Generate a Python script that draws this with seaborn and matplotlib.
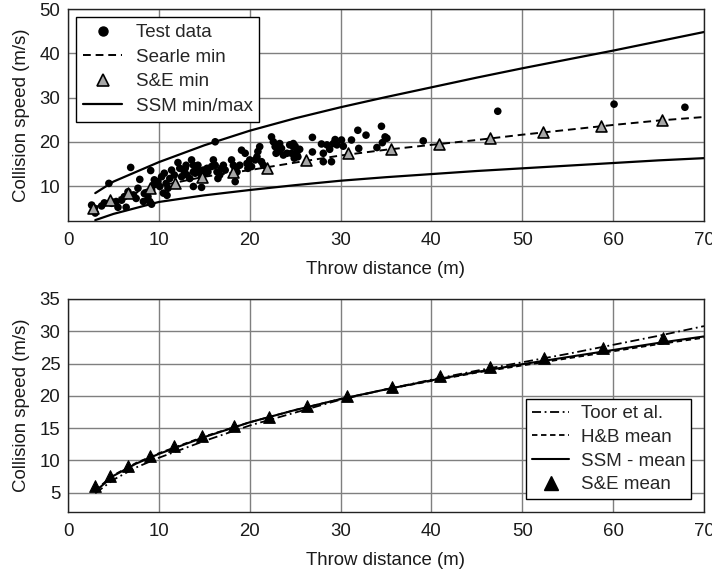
import numpy as np
import pandas as pd
import matplotlib
matplotlib.use("Agg")
import matplotlib.pyplot as plt
import seaborn as sns
from matplotlib.lines import Line2D

# ---------------- data: top panel ----------------
test_x = [6.9, 4.5, 9.1, 2.6, 2.9, 3.7, 4.0, 4.8, 5.3, 5.5, 5.9, 6.4, 6.2, 6.6, 7.2, 7.5, 7.7,
          7.9, 8.3, 8.4, 8.8, 9.0, 9.2, 9.4, 9.5, 9.9, 10.1, 10.3, 10.6, 10.8, 11.0, 11.2, 11.4,
          11.7, 12.1, 12.3, 12.5, 12.8, 13.0, 3.0, 9.2, 10.5, 10.9,
          12.9, 13.1, 13.4, 13.6, 13.8, 13.8, 14.0, 14.2, 14.3, 14.5, 14.7, 14.9, 15.1, 15.3,
          13.8, 14.7, 15.4, 15.8, 16.0, 16.2, 16.4, 16.5, 16.7, 16.9, 17.1, 17.3, 18.0, 18.2,
          18.4, 18.6, 18.9, 19.1, 19.5, 19.7, 19.8, 20.0, 20.2, 20.6, 20.8, 20.9, 21.1, 21.3,
          21.5, 22.4, 22.6, 22.8, 22.9, 23.1, 23.3, 23.5, 23.7, 24.1, 24.4, 24.8, 25.2, 25.3,
          16.2, 18.4,
          24.8, 25.0, 24.6, 25.2, 24.9, 25.5, 26.9, 26.9, 27.9, 28.1, 28.1, 28.5, 29.0, 28.8,
          29.2, 29.4, 29.6, 30.1, 30.3, 31.2, 31.9, 32.0, 32.8, 34.0, 34.5, 34.6, 35.1, 34.9,
          39.1, 47.3, 60.1, 67.9]
test_y = [14.2, 10.6, 13.5, 5.7, 5.0, 5.5, 6.2, 6.1, 6.5, 5.2, 6.8, 5.2, 7.6, 8.7, 8.0, 7.2, 9.5,
          11.5, 6.5, 8.3, 7.6, 6.5, 9.1, 10.2, 11.4, 11.0, 9.9, 12.1, 12.9, 10.6, 9.5, 11.7, 13.6,
          12.5, 15.3, 14.0, 12.1, 13.2, 14.7, 3.9, 5.9, 8.4, 7.9,
          14.0, 12.5, 11.7, 15.9, 14.7, 13.2, 12.9, 14.0, 14.7, 13.2, 12.1, 13.6, 12.9, 14.0,
          9.9, 9.7, 13.2, 14.4, 15.9, 14.7, 13.2, 11.7, 12.5, 14.0, 14.7, 13.6, 15.9, 14.7,
          14.0, 13.2, 14.7, 18.1, 17.4, 15.1, 14.0, 15.9, 14.4, 15.9, 16.6, 17.8, 18.9, 15.5,
          14.7, 21.1, 20.0, 18.9, 17.4, 17.8, 19.6, 18.5, 17.0, 17.4, 19.3, 18.9, 17.8, 16.6,
          20.0, 11.0,
          19.6, 19.0, 17.4, 17.0, 16.3, 18.3, 21.0, 17.7, 19.5, 17.4, 15.5, 19.3, 15.5, 18.3,
          19.6, 20.5, 19.3, 20.4, 19.0, 20.4, 22.6, 18.5, 21.5, 18.7, 23.5, 19.8, 20.8, 21.1,
          20.2, 26.9, 28.5, 27.8]

curve_x = [3, 5, 10, 15, 20, 25, 30, 35, 40, 45, 50, 55, 60, 65, 70]
ssm_max = [8.4, 11.0, 15.4, 19.2, 22.5, 25.3, 27.8, 30.1, 32.3, 34.5, 36.6, 38.6, 40.6, 42.7, 44.8]
ssm_min = [2.3, 3.7, 6.4, 7.9, 9.1, 10.2, 11.2, 12.0, 12.7, 13.4, 14.0, 14.6, 15.2, 15.8, 16.3]
searle_min = [5.2, 7.0, 10.0, 12.1, 13.6, 15.3, 16.9, 18.2, 19.3, 20.4, 21.6, 22.7, 23.8, 24.8, 25.6]

se_min_x = [2.8, 4.6, 6.6, 9.0, 11.8, 14.8, 18.2, 21.9, 26.2, 30.8, 35.6, 40.8, 46.4, 52.3, 58.7, 65.4]
se_min_y = [5.0, 6.8, 8.4, 9.5, 10.7, 12.0, 13.2, 14.1, 15.9, 17.4, 18.4, 19.5, 20.8, 22.2, 23.5, 24.9]

# ---------------- data: bottom panel ----------------
mean_x = [3, 5, 7.5, 10, 15, 20, 25, 30, 35, 40, 45, 50, 55, 60, 65, 70]
toor = [4.9, 7.0, 8.9, 10.4, 13.0, 15.4, 17.4, 19.4, 21.0, 22.5, 23.9, 25.2, 26.5, 27.9, 29.3, 30.8]
hb_mean = [5.4, 7.7, 9.6, 11.1, 13.7, 15.9, 17.8, 19.5, 21.0, 22.3, 23.6, 24.7, 25.8, 26.9, 28.0, 29.0]
ssm_mean = [5.2, 7.6, 9.5, 11.0, 13.6, 15.9, 17.8, 19.5, 21.0, 22.4, 23.7, 24.9, 26.0, 27.1, 28.2, 29.2]

se_mean_x = [3.0, 4.6, 6.6, 9.0, 11.7, 14.8, 18.3, 22.1, 26.3, 30.7, 35.7, 40.9, 46.5, 52.4, 58.9, 65.5]
se_mean_y = [6.1, 7.6, 9.2, 10.6, 12.2, 13.7, 15.3, 16.7, 18.4, 19.9, 21.3, 23.0, 24.4, 25.8, 27.4, 29.0]

x_ticks = [0, 10, 20, 30, 40, 50, 60, 70]
top_yticks = [10, 20, 30, 40, 50]
bot_yticks = [5, 10, 15, 20, 25, 30, 35]

# ---------------- style ----------------
sns.set_style("white")
plt.rcParams['font.family'] = ['Liberation Sans', 'DejaVu Sans']
plt.rcParams['font.size'] = 13.4

fig = plt.figure(figsize=(7.12, 5.69), dpi=100)
W, H = 712, 569
ax1 = fig.add_axes([68 / W, 1 - 221 / H, 636 / W, 212 / H])
ax2 = fig.add_axes([68 / W, 1 - 512 / H, 636 / W, 213 / H])

TXT = '#1a1a1a'
FS = 13.4

def style_axes(ax, yticks, ylim):
    ax.set_xlim(0, 70)
    ax.set_ylim(*ylim)
    ax.set_xticks(x_ticks)
    ax.set_yticks(yticks)
    ax.grid(True, color='#7f7f7f', linewidth=1.0)
    ax.set_axisbelow(True)
    for s in ax.spines.values():
        s.set_color('#222222')
        s.set_linewidth(1.0)
    ax.tick_params(axis='x', direction='in', length=4, width=1.0, color='#222222',
                   labelsize=FS, pad=7.8, labelcolor=TXT)
    ax.tick_params(axis='y', direction='in', length=4, width=1.0, color='#222222',
                   labelsize=FS, pad=5.5, labelcolor=TXT)
    ax.set_xlabel('Throw distance (m)', fontsize=FS, color=TXT, labelpad=9)
    ax.set_ylabel('Collision speed (m/s)', fontsize=FS, color=TXT, labelpad=7)

# ---- top panel ----
sns.lineplot(x=curve_x, y=ssm_max, ax=ax1, color='black', linewidth=1.6)
sns.lineplot(x=curve_x, y=ssm_min, ax=ax1, color='black', linewidth=1.6)
sns.lineplot(x=curve_x, y=searle_min, ax=ax1, color='black', linewidth=1.4,
             linestyle=(0, (4, 2.5)))
sns.scatterplot(x=test_x, y=test_y, ax=ax1, color='black', s=30, edgecolor='none', zorder=3)
sns.scatterplot(x=se_min_x, y=se_min_y, ax=ax1, marker='^', color='#a6a6a6', s=62,
                edgecolor='black', linewidth=1.2, zorder=4)
style_axes(ax1, top_yticks, (2.1, 50))

h_top = [
    Line2D([], [], marker='o', color='black', linestyle='none', markersize=6.5),
    Line2D([], [], color='black', linestyle=(0, (4, 2.5)), linewidth=1.4),
    Line2D([], [], marker='^', color='#a6a6a6', markeredgecolor='black', markeredgewidth=1.2,
           linestyle='none', markersize=9),
    Line2D([], [], color='black', linewidth=1.6),
]
leg1 = ax1.legend(h_top, ['Test data', 'Searle min', 'S&E min', 'SSM min/max'],
                  loc='upper left', fontsize=13.5, frameon=True, fancybox=False,
                  edgecolor='black', framealpha=1, borderaxespad=0.45,
                  handlelength=2.1, labelspacing=0.4, borderpad=0.35, handletextpad=0.7)
leg1.get_frame().set_linewidth(1.0)

# ---- bottom panel ----
sns.lineplot(x=mean_x, y=toor, ax=ax2, color='black', linewidth=1.3,
             linestyle=(0, (5, 2, 1, 2)))
sns.lineplot(x=mean_x, y=hb_mean, ax=ax2, color='black', linewidth=1.3,
             linestyle=(0, (3, 2)))
sns.lineplot(x=mean_x, y=ssm_mean, ax=ax2, color='black', linewidth=1.5)
sns.scatterplot(x=se_mean_x, y=se_mean_y, ax=ax2, marker='^', color='black', s=70,
                edgecolor='black', linewidth=0.8, zorder=4)
style_axes(ax2, bot_yticks, (2.0, 35))

h_bot = [
    Line2D([], [], color='black', linestyle=(0, (5, 2, 1, 2)), linewidth=1.3),
    Line2D([], [], color='black', linestyle=(0, (3, 2)), linewidth=1.3),
    Line2D([], [], color='black', linewidth=1.5),
    Line2D([], [], marker='^', color='black', linestyle='none', markersize=10),
]
leg2 = ax2.legend(h_bot, ['Toor et al.', 'H&B mean', 'SSM - mean', 'S&E mean'],
                  loc='lower right', fontsize=13.5, frameon=True, fancybox=False,
                  edgecolor='black', framealpha=1, borderaxespad=0.7,
                  handlelength=2.0, labelspacing=0.35, borderpad=0.3, handletextpad=0.6)
leg2.get_frame().set_linewidth(1.0)

fig.savefig('out.png', dpi=100)
